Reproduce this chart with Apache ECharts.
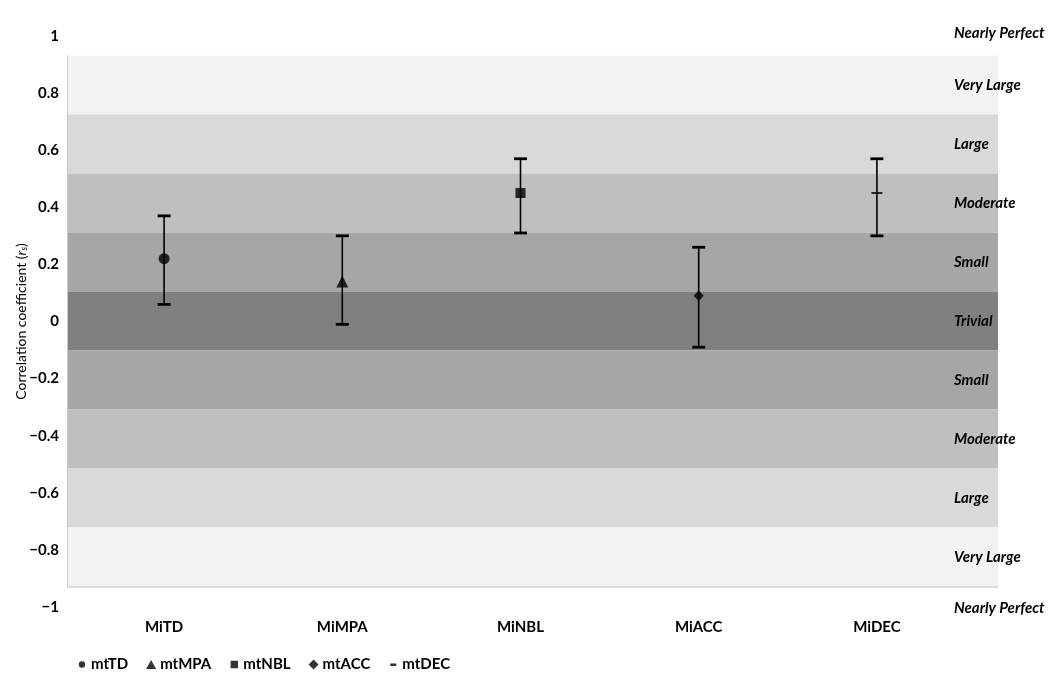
<!DOCTYPE html>
<html>
<head>
<meta charset="utf-8">
<script src="https://cdn.jsdelivr.net/npm/echarts@6/dist/echarts.min.js"></script>
<style>
  html, body { margin: 0; padding: 0; background: #fff; }
  #chart { width: 1063px; height: 688px; }
</style>
</head>
<body>
<div id="chart"></div>
<script>
// data
var categories = ['MiTD', 'MiMPA', 'MiNBL', 'MiACC', 'MiDEC'];
var seriesNames = ['mtTD', 'mtMPA', 'mtNBL', 'mtACC', 'mtDEC'];
var means = [0.22, 0.14, 0.45, 0.09, 0.45];
var lower = [0.06, -0.01, 0.31, -0.09, 0.30];
var upper = [0.37, 0.30, 0.57, 0.26, 0.57];

// magnitude bands (threshold edges) and their names
var bandEdges = [0.9, 0.7, 0.5, 0.3, 0.1, -0.1, -0.3, -0.5, -0.7, -0.9];
var magnitudeLabels = ['Nearly Perfect', 'Very Large', 'Large', 'Moderate', 'Small', 'Trivial',
                       'Small', 'Moderate', 'Large', 'Very Large', 'Nearly Perfect'];

var bandColors = ['#f2f2f2', '#d9d9d9', '#bfbfbf', '#a6a6a6', '#808080',
                  '#a6a6a6', '#bfbfbf', '#d9d9d9', '#f2f2f2'];
var font = 'Lato, "Open Sans", sans-serif';

// legend icons inside a 10x10 box (corner specks keep the box size)
var box = 'M0,0h0.01v0.01h-0.01z M10,10h0.01v0.01h-0.01z ';
var icons = [
  'path://' + box + 'M8.2,5a3.2,3.2 0 1,1 -6.4,0a3.2,3.2 0 1,1 6.4,0z',
  'path://' + box + 'M5,0L10.5,10L-0.5,10z',
  'path://' + box + 'M1.3,1.3h7.4v7.4h-7.4z',
  'path://' + box + 'M5,0L10,5L5,10L0,5z',
  'path://' + box + 'M2,4h6v2.4h-6z'
];
var symbols = ['circle', 'triangle', 'rect', 'diamond', 'rect'];
var symbolSizes = [11, 12, 10, [10, 11], [11, 2]];

var bands = [];
for (var i = 0; i < bandEdges.length - 1; i++) {
  bands.push([bandEdges[i + 1], bandEdges[i], i]);
}

var markerSeries = seriesNames.map(function (name, i) {
  return {
    name: name,
    type: 'scatter',
    xAxisIndex: 1,
    yAxisIndex: 1,
    symbol: symbols[i],
    symbolSize: symbolSizes[i],
    itemStyle: { color: '#000' },
    z: 5,
    data: [[categories[i], means[i]]]
  };
});

var option = {
  animation: false,
  textStyle: { fontFamily: font },
  legend: {
    data: seriesNames.map(function (n, i) { return { name: n, icon: icons[i] }; }),
    left: 72,
    top: 652,
    itemWidth: 10,
    itemHeight: 10,
    itemGap: 18,
    selectedMode: false,
    textStyle: { fontFamily: font, fontSize: 15, fontWeight: 'bold', color: '#000', padding: [0, 0, 0, -1] }
  },
  grid: [
    { left: 67, right: 65, top: 26, bottom: 72 },
    { left: 75, right: 97, top: 36, bottom: 81 }
  ],
  xAxis: [
    { gridIndex: 0, type: 'value', min: 0, max: 1, show: false },
    {
      gridIndex: 1,
      type: 'category',
      data: categories,
      axisLine: { show: false },
      axisTick: { show: false },
      axisLabel: { margin: 13, fontFamily: font, fontSize: 15, fontWeight: 'bold', color: '#000' }
    }
  ],
  yAxis: [
    {
      gridIndex: 0,
      type: 'value',
      position: 'right',
      offset: -44,
      z: 10,
      min: -1,
      max: 1,
      interval: 0.2,
      axisLine: { show: false },
      axisTick: { show: false },
      splitLine: { show: false },
      axisLabel: {
        margin: 0,
        fontFamily: font,
        fontSize: 15,
        fontWeight: 'bold',
        fontStyle: 'italic',
        color: '#000',
        verticalAlignMaxLabel: 'top',
        verticalAlignMinLabel: 'bottom',
        formatter: function (v) {
          return magnitudeLabels[Math.round((1 - v) / 0.2)];
        }
      }
    },
    {
      gridIndex: 1,
      type: 'value',
      min: -1,
      max: 1,
      interval: 0.2,
      name: '{a|Correlation coefficient (}{i|r}{s|s}{a|)}',
      nameLocation: 'middle',
      nameGap: 46,
      nameMoveOverlap: false,
      nameTextStyle: {
        rich: {
          a: { fontFamily: font, fontSize: 14, color: '#000' },
          i: { fontFamily: font, fontSize: 14, fontStyle: 'italic', color: '#000' },
          s: { fontFamily: font, fontSize: 9, fontStyle: 'italic', color: '#000', verticalAlign: 'bottom', padding: [7, 0, 0, 0] }
        }
      },
      axisLine: { show: false },
      axisTick: { show: false },
      splitLine: { show: false },
      axisLabel: {
        margin: 16,
        fontFamily: font,
        fontSize: 15,
        fontWeight: 'bold',
        color: '#000',
        formatter: function (v) {
          return String(Math.round(v * 10) / 10).replace('-', '\u2212');
        }
      }
    }
  ],
  series: [
    {
      name: 'bands',
      type: 'custom',
      xAxisIndex: 0,
      yAxisIndex: 0,
      silent: true,
      z: 1,
      encode: { x: -1, y: [0, 1] },
      data: bands,
      renderItem: function (params, api) {
        var p1 = api.coord([0, api.value(1)]);
        var p2 = api.coord([1, api.value(0)]);
        return {
          type: 'rect',
          shape: { x: p1[0], y: p1[1], width: p2[0] - p1[0], height: p2[1] - p1[1] },
          style: { fill: bandColors[api.value(2)] }
        };
      }
    },
    {
      name: 'frame',
      type: 'custom',
      xAxisIndex: 0,
      yAxisIndex: 0,
      silent: true,
      z: 2,
      encode: { x: -1, y: [0, 1] },
      data: [[bandEdges[bandEdges.length - 1], bandEdges[0]]],
      renderItem: function (params, api) {
        var bl = api.coord([0, api.value(0)]);
        var tl = api.coord([0, api.value(1)]);
        var br = api.coord([1, api.value(0)]);
        return {
          type: 'group',
          children: [
            { type: 'line', shape: { x1: tl[0] + 0.5, y1: tl[1], x2: bl[0] + 0.5, y2: bl[1] }, style: { stroke: '#c8c8c8', lineWidth: 1 } },
            { type: 'line', shape: { x1: bl[0], y1: bl[1] + 0.5, x2: br[0], y2: br[1] + 0.5 }, style: { stroke: '#bdbdbd', lineWidth: 1.2 } }
          ]
        };
      }
    },
    {
      name: 'errorbars',
      type: 'custom',
      xAxisIndex: 1,
      yAxisIndex: 1,
      silent: true,
      z: 4,
      encode: { x: 0, y: [1, 2] },
      data: categories.map(function (c, i) { return [i, lower[i], upper[i]]; }),
      renderItem: function (params, api) {
        var lo = api.coord([api.value(0), api.value(1)]);
        var hi = api.coord([api.value(0), api.value(2)]);
        var cap = 6.5;
        return {
          type: 'group',
          children: [
            { type: 'line', shape: { x1: hi[0], y1: hi[1], x2: lo[0], y2: lo[1] }, style: { stroke: '#000', lineWidth: 1.6 } },
            { type: 'line', shape: { x1: hi[0] - cap, y1: hi[1], x2: hi[0] + cap, y2: hi[1] }, style: { stroke: '#000', lineWidth: 2.8 } },
            { type: 'line', shape: { x1: lo[0] - cap, y1: lo[1], x2: lo[0] + cap, y2: lo[1] }, style: { stroke: '#000', lineWidth: 2.8 } }
          ]
        };
      }
    }
  ].concat(markerSeries)
};

var chart = echarts.init(document.getElementById('chart'));
chart.setOption(option);
</script>
</body>
</html>
